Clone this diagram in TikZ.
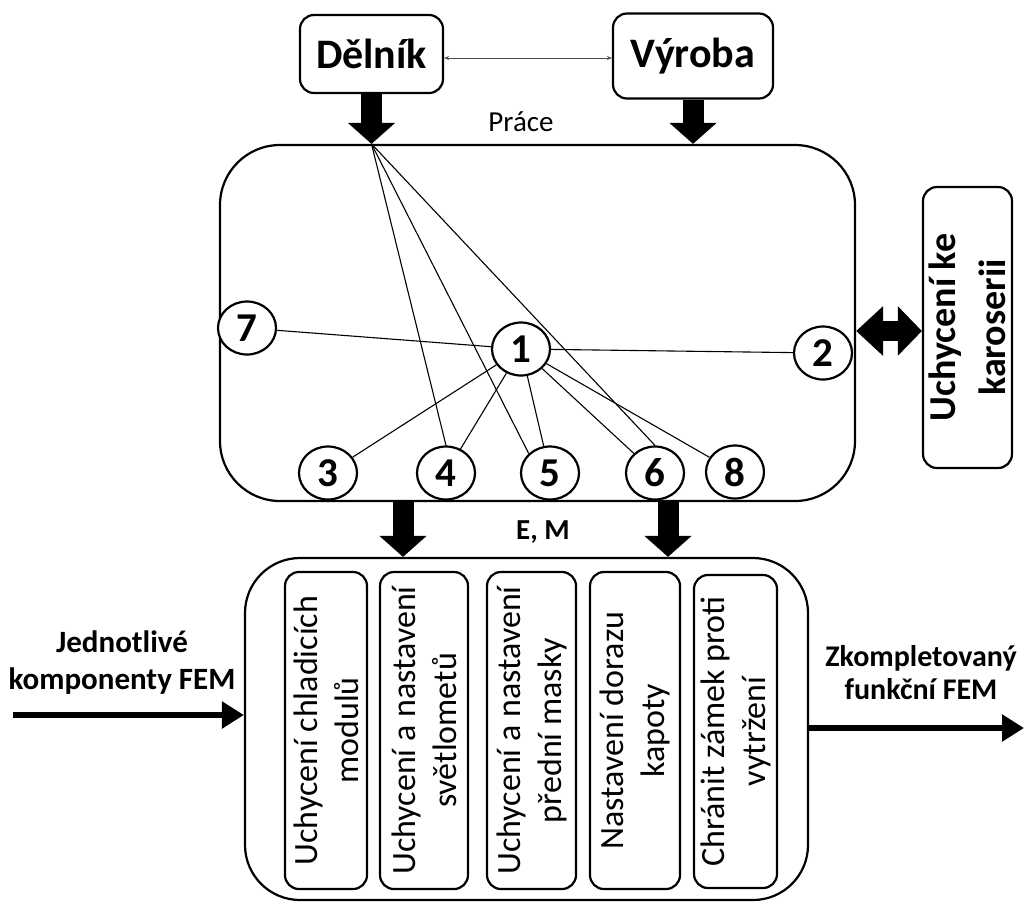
\documentclass[tikz,border=0pt]{standalone}
\usepackage{fontspec}
\setmainfont{Carlito}
\usetikzlibrary{shapes.geometric,arrows.meta}
\begin{document}
\begin{tikzpicture}[x=1pt,y=-1pt,
  box/.style={draw, line width=2.2pt, rounded corners=14pt, inner sep=0pt},
  num/.style={draw, ellipse, line width=2.2pt, fill=white, minimum width=58pt, minimum height=53pt, inner sep=0pt, font=\fontsize{41}{41}\selectfont\bfseries},
  link/.style={line width=1.1pt},
  fat/.style={line width=21pt, -{Triangle[width=46pt,length=21pt]}},
  flow/.style={line width=6pt, -{Triangle[width=26pt,length=22pt]}},
  inner/.style={rotate=90, align=center, font=\fontsize{34}{41}\selectfont},
  big/.style={font=\fontsize{42}{42}\selectfont\bfseries},
  lab/.style={align=center, font=\fontsize{31}{37}\selectfont\bfseries}
]
\useasboundingbox (0,0) rectangle (1024,906);

% top boxes
\node[box, big, minimum width=143pt, minimum height=78pt] (dl) at (371.5,54) {Dělník};
\node[box, big, minimum width=160pt, minimum height=85pt] (vy) at (693,56) {Výroba};
\coordinate (ty) at (0,58);
\draw[line width=0.9pt, black!70, {Stealth[length=5pt,width=4pt]}-{Stealth[length=5pt,width=4pt]}] (dl.east |- ty) -- (vy.west |- ty);

% main box
\node[box, rounded corners=60pt, minimum width=635pt, minimum height=356pt] (main) at (537.5,323) {};
\draw[fat] (dl.south) -- (dl.south |- main.north);
\draw[fat] (vy.south) -- (vy.south |- main.north);
\coordinate (tp) at (dl.south |- main.north);
\node[font=\fontsize{29}{29}\selectfont] (pr) at (521,122) {Práce};

% numbered nodes
\node[num] (c1) at (521,349) {1};
\node[num] (c2) at (823,353) {2};
\node[num] (c3) at (328,473) {3};
\node[num] (c4) at (446,473) {4};
\node[num] (c5) at (550,473) {5};
\node[num] (c6) at (655,473) {6};
\node[num] (c7) at (247,328) {7};
\node[num] (c8) at (735,472) {8};

\draw[link] (tp) -- (c4.north);
\draw[link] (tp) -- (c5.north west);
\draw[link] (tp) -- (c6.north);
\draw[link] (c1) -- (c7);
\draw[link] (c1) -- (c2);
\draw[link] (c1) -- (c3);
\draw[link] (c1) -- (c4);
\draw[link] (c1) -- (c5);
\draw[link] (c1) -- (c6);
\draw[link] (c1) -- (c8);

% right box
\node[box, minimum width=89pt, minimum height=281pt] (uk) at (967.5,327.5) {};
\node[rotate=90, align=center, font=\fontsize{38}{50}\selectfont\bfseries] (ukt) at (uk) {Uchycení ke\\karoserii};
\coordinate (dy) at (0,331);
\draw[line width=20pt, {Triangle[width=48pt,length=27pt]}-{Triangle[width=48pt,length=24pt]}] (main.east |- dy) -- (uk.west |- dy);

% bottom box
\node[box, rounded corners=55pt, minimum width=563pt, minimum height=342pt] (bot) at (526.5,729) {};
\coordinate (a1) at (403,0);
\coordinate (a2) at (668,0);
\draw[fat] (main.south -| a1) -- (bot.north -| a1);
\draw[fat] (main.south -| a2) -- (bot.north -| a2);
\node[font=\fontsize{29}{29}\selectfont\bfseries] (em) at (543,532) {E, M};

\node[box, minimum width=82pt, minimum height=317pt] (b1) at (326,730.5) {};
\node[box, minimum width=88pt, minimum height=317pt] (b2) at (424,730.5) {};
\node[box, minimum width=89pt, minimum height=317pt] (b3) at (531.5,730.5) {};
\node[box, minimum width=90pt, minimum height=317pt] (b4) at (635,730.5) {};
\node[box, minimum width=83pt, minimum height=313pt] (b5) at (735.5,731.5) {};
\node[inner] (t1) at (b1) {Uchycení chladicích\\modulů};
\node[inner] (t2) at (b2) {Uchycení a nastavení\\světlometů};
\node[inner] (t3) at (b3) {Uchycení a nastavení\\přední masky};
\node[inner] (t4) at (b4) {Nastavení dorazu\\kapoty};
\node[inner] (t5) at (b5) {Chránit zámek proti\\vytržení};

% in / out
\coordinate (la) at (13,715);
\coordinate (ra) at (1024,728);
\draw[flow] (la) -- (bot.west |- la);
\draw[flow] (bot.east |- ra) -- (ra);
\node[lab] (lt) at (122,663) {Jednotlivé\\komponenty FEM};
\node[align=center, font=\fontsize{30}{33}\selectfont\bfseries] (rt) at (921,673) {Zkompletovaný\\funkční FEM};
\end{tikzpicture}
\end{document}
